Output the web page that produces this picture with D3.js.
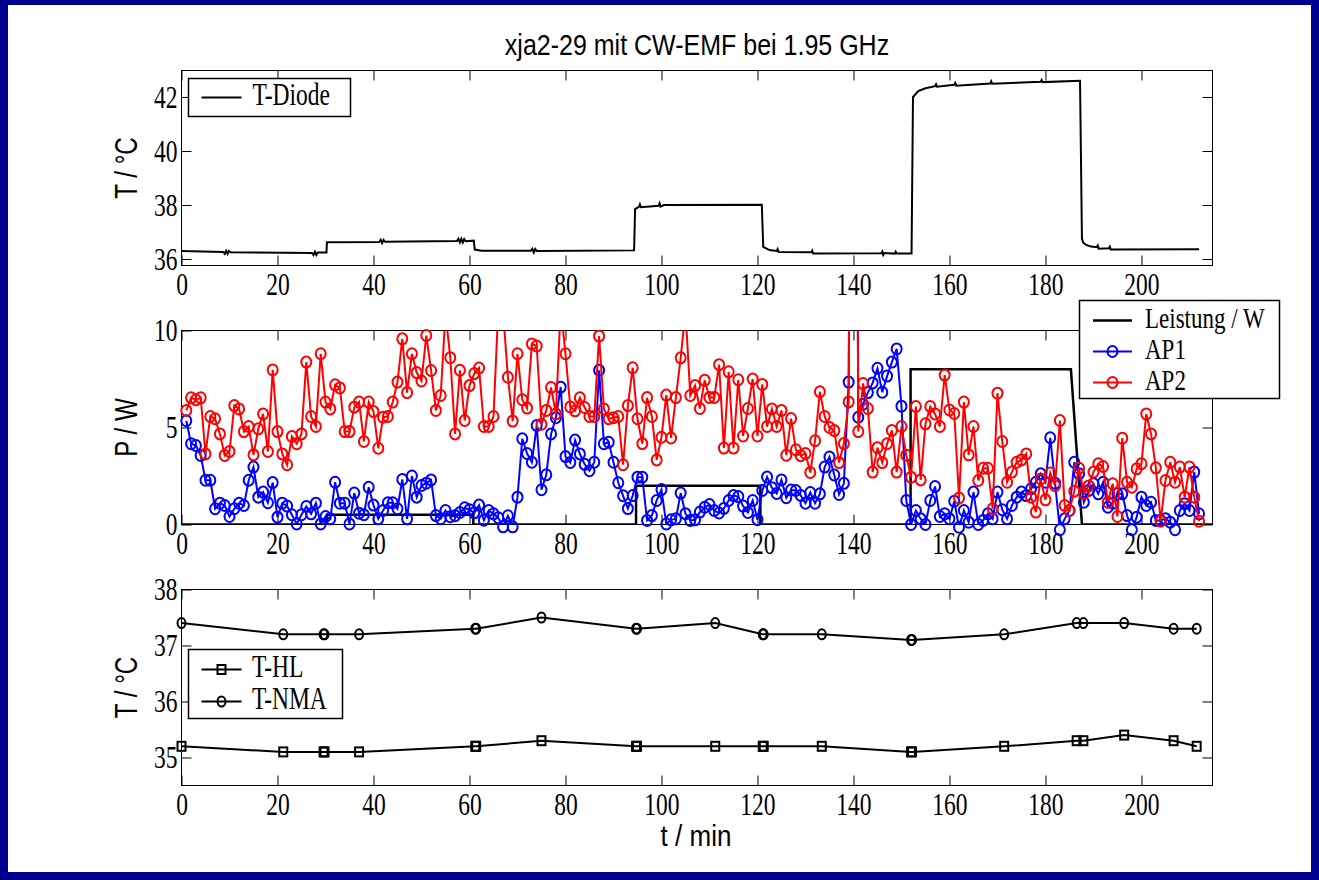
<!DOCTYPE html>
<html>
<head>
<meta charset="utf-8">
<script src="https://cdn.jsdelivr.net/npm/d3@7"></script>
<style>
  body { margin: 0; background: #000090; }
  svg { display: block; }
</style>
</head>
<body>
<script>
// ---- data ----
var tDiodeTime = [0, 8.7, 9.0, 9.3, 9.6, 9.9, 10.2, 27.2, 27.5, 27.8, 28.1, 28.4, 30.2, 30.3,
    41.2, 41.5, 41.8, 42.1, 42.4, 57.4, 57.7, 58.0, 58.3, 58.6, 58.9, 59.2, 60.9, 61.1, 62.5,
    72.8, 73.1, 73.4, 73.7, 74.0, 94.3, 94.5, 95.3, 95.5, 95.7, 99.4, 99.6, 99.8, 100.5, 120.9, 121.2, 122.5,
    124.0, 124.2, 124.4, 131.2, 131.4, 131.6, 145.8, 146.0, 146.2, 146.4, 148.6, 148.8, 149.0, 152.1, 152.4,
    153.5, 155, 157.0, 157.2, 157.4, 161, 161.2, 161.4, 168.5, 168.7, 168.9, 179, 179.2, 179.4, 187.2,
    187.6, 187.9, 188.5, 189.5, 190.7, 190.9, 191.1, 193.2, 193.4, 193.6, 212];
var tDiodeTemp = [36.3, 36.26, 36.19, 36.3, 36.19, 36.3, 36.25, 36.22, 36.15, 36.27, 36.15, 36.24, 36.24, 36.62,
    36.63, 36.71, 36.59, 36.71, 36.64, 36.67, 36.75, 36.61, 36.75, 36.61, 36.74, 36.66, 36.68, 36.35, 36.31,
    36.31, 36.38, 36.24, 36.37, 36.3, 36.32, 37.85, 37.93, 38.02, 37.92, 37.97, 38.06, 37.94, 38.0, 38.01, 36.45, 36.33,
    36.3, 36.37, 36.26, 36.25, 36.31, 36.2, 36.21, 36.28, 36.15, 36.22, 36.2, 36.27, 36.2, 36.2, 42.0,
    42.22, 42.32, 42.4, 42.47, 42.38, 42.45, 42.52, 42.42, 42.5, 42.58, 42.49, 42.56, 42.63, 42.55, 42.6,
    36.75, 36.6, 36.52, 36.46, 36.44, 36.5, 36.38, 36.4, 36.46, 36.35, 36.36];

var apStart = 1; // first sample of AP1 / AP2 at t = 1 min, one sample per minute
var ap1 = [5.35, 4.16, 4.07, 3.56, 2.28, 2.28, 0.81, 1.10, 0.98, 0.41,
    0.81, 1.10, 0.98, 2.28, 2.96, 1.41, 1.67, 1.12, 2.16, 0.38,
    1.10, 0.95, 0.5, 0.03, 0.5, 0.93, 0.55, 1.10, 0.03, 0.41,
    0.29, 2.18, 1.10, 1.10, 0.03, 1.62, 0.58, 0.5, 1.92, 1.0,
    0.29, 0.72, 1.12, 1.12, 0.81, 2.32, 0.29, 2.5, 1.41, 2.01,
    2.13, 2.3, 0.46, 0.3, 0.72, 0.4, 0.45, 0.62, 0.86, 0.76,
    0.6, 1.0, 0.22, 0.72, 0.55, 0.35, -0.12, 0.45, -0.12, 1.41,
    4.42, 3.66, 3.21, 5.10, 1.79, 2.56, 4.67, 5.5, 7.08, 3.5,
    3.2, 4.35, 3.64, 3.1, 2.77, 3.21, 7.95, 4.16, 4.24, 3.21,
    2.15, 1.48, 0.82, 1.49, 2.44, 2.44, 0.21, 0.46, 1.24, 1.8,
    0.03, 0.24, 0.29, 1.62, 0.56, 0.21, 0.24, 0.64, 0.89, 1.03,
    0.72, 0.59, 0.83, 1.24, 1.49, 1.44, 0.95, 0.62, 1.24, 0.25,
    1.75, 2.45, 1.9, 1.6, 2.3, 1.38, 1.78, 1.75, 1.5, 1.1,
    1.65, 1.1, 1.58, 2.96, 3.48, 2.55, 1.55, 2.12, 7.34, 60,
    5.53, 6.2, 6.8, 7.3, 8.05, 6.82, 7.65, 8.37, 9.05, 6.1,
    1.24, 0.0, 0.72, 0.29, 0.0, 1.24, 1.96, 0.41, 0.55, 0.29,
    1.20, -0.14, 0.72, 0.12, 1.67, 0.0, 0.21, 0.55, 0.29, 1.67,
    0.76, 0.29, 0.98, 1.41, 1.67, 1.49, 1.84, 2.18, 2.61, 2.18,
    4.47, 2.13, -0.27, 0.29, 0.72, 3.21, 2.61, 1.15, 1.75, 2.10,
    1.58, 2.18, 0.89, 1.10, 1.58, 1.58, 0.46, -0.27, 0.38, 1.41,
    0.98, 1.15, 0.21, 0.21, 0.3, 0.12, -0.27, 0.72, 1.07, 0.72,
    2.70, 0.55];
var ap2 = [5.88, 6.53, 6.43, 6.53, 3.64, 5.57, 5.45, 4.67, 3.56, 3.76,
    6.13, 5.96, 4.79, 5.05, 3.59, 4.93, 5.70, 3.76, 7.97, 4.79,
    3.64, 3.08, 4.54, 4.16, 4.67, 8.37, 5.57, 5.05, 8.80, 6.31,
    5.96, 7.2, 7.04, 4.79, 4.79, 6.05, 6.31, 4.28, 6.31, 5.82,
    3.93, 5.53, 5.57, 6.31, 7.34, 9.57, 6.8, 8.8, 7.83, 7.4,
    9.74, 7.94, 5.88, 6.65, 10.9, 8.6, 4.67, 7.95, 5.36, 7.16,
    7.78, 8.07, 5.05, 5.05, 5.57, 11.1, 11.0, 7.59, 5.33, 8.80,
    6.43, 6.0, 9.31, 9.2, 5.17, 5.88, 7.06, 5.70, 11.2, 8.80,
    6.06, 5.86, 6.53, 6.03, 5.57, 5.57, 9.71, 5.96, 5.45, 5.5,
    5.57, 3.08, 6.13, 8.08, 5.45, 4.17, 6.54, 5.57, 3.33, 4.5,
    6.67, 4.46, 6.54, 8.59, 11.0, 6.65, 7.16, 5.98, 7.44, 6.55,
    6.55, 8.24, 3.94, 7.87, 3.94, 7.46, 4.56, 5.98, 7.5, 4.56,
    7.22, 5.05, 5.96, 5.05, 5.88, 3.57, 5.46, 3.85, 3.55, 3.66,
    2.68, 4.32, 6.84, 5.57, 5.0, 4.84, 3.19, 4.17, 6.32, 60,
    4.79, 7.27, 5.98, 2.70, 3.96, 3.19, 4.16, 4.85, 2.70, 5.05,
    3.57, 2.44, 6.08, 2.30, 5.19, 6.08, 5.70, 5.05, 7.7, 5.9,
    5.72, 1.37, 6.31, 3.59, 5.05, 2.27, 2.90, 2.90, 0.81, 6.77,
    4.28, 2.18, 2.70, 3.21, 3.33, 3.64, 1.41, 0.64, 2.35, 1.27,
    2.65, 2.0, 5.36, 0.98, 0.72, 1.72, 2.90, 1.6, 1.99, 2.70,
    3.13, 2.99, 1.15, 2.10, 0.41, 4.45, 2.18, 1.92, 2.87, 3.13,
    5.70, 4.67, 2.92, 0.17, 2.27, 3.21, 2.18, 2.96, 1.41, 2.96,
    1.41, 0.17];

var leistungTime = [0, 30.3, 30.3, 60.8, 60.8, 94.7, 94.7, 120.6, 120.6, 151.9, 151.9, 185.3, 187.6, 214.8];
var leistungWatt = [0, 0, 0.5, 0.5, 0, 0, 2, 2, 0, 0, 8, 8, 0, 0];

var probeTime = [0, 21.2, 29.6, 29.8, 37.0, 61.2, 61.4, 75.0, 94.7, 94.9, 111.2, 121.1, 121.3,
    133.4, 152.0, 152.2, 171.4, 186.5, 187.9, 196.4, 206.7, 211.5];
var tHL = [35.2, 35.1, 35.1, 35.1, 35.1, 35.2, 35.2, 35.3, 35.2, 35.2, 35.2, 35.2, 35.2,
    35.2, 35.1, 35.1, 35.2, 35.3, 35.3, 35.4, 35.3, 35.2];
var tNMA = [37.4, 37.2, 37.2, 37.2, 37.2, 37.3, 37.3, 37.5, 37.3, 37.3, 37.4, 37.2, 37.2,
    37.2, 37.1, 37.1, 37.2, 37.4, 37.4, 37.4, 37.3, 37.3];

var xTicks = [0, 20, 40, 60, 80, 100, 120, 140, 160, 180, 200];
var diodeTicks = [36, 38, 40, 42];
var powerTicks = [0, 5, 10];
var probeTicks = [35, 36, 37, 38];

// ---- layout ----
var W = 1319, H = 880;
var stretch = 1.35; // the original figure is stretched vertically, serif text too
var serif = "'Liberation Serif', 'Times New Roman', serif";
var sans = "'Liberation Sans', Arial, sans-serif";

var svg = d3.select('body').append('svg')
    .attr('width', W)
    .attr('height', H);

svg.append('rect')
    .attr('width', W).attr('height', H)
    .attr('fill', '#000090');
svg.append('rect')
    .attr('x', 8).attr('y', 5)
    .attr('width', W - 16).attr('height', H - 13)
    .attr('fill', '#ffffff');

var x = d3.scaleLinear()
    .domain([0, 214.8])
    .range([181.5, 1212.5]);

var panels = [
    {top: 70.5, bottom: 265.5, domain: [35.76, 42.98], ticks: diodeTicks, label: 'T / °C', id: 'p1'},
    {top: 330.5, bottom: 524.5, domain: [0, 10], ticks: powerTicks, label: 'P / W', id: 'p2'},
    {top: 589.5, bottom: 785.5, domain: [34.5, 38], ticks: probeTicks, label: 'T / °C', id: 'p3'}
];

// text helper: sx / sy scale the glyphs, rotate turns the label for the y axes
function addText(parent, str, px, py, opts) {
    var sx = opts.sx || 1, sy = opts.sy || stretch;
    var tr = 'translate(' + px + ',' + py + ')';
    if (opts.rotate) tr += ' rotate(-90) scale(' + sx + ',' + sy + ')';
    else tr += ' scale(' + sx + ',' + sy + ')';
    return parent.append('text')
        .attr('transform', tr)
        .attr('text-anchor', opts.anchor || 'start')
        .attr('font-family', opts.font || serif)
        .attr('font-size', opts.size || 23.5)
        .attr('fill', 'black')
        .text(str);
}

panels.forEach(function(p) {
    var y = d3.scaleLinear().domain(p.domain).range([p.bottom, p.top]);
    p.y = y;
    var g = svg.append('g').classed(p.id, true);

    svg.append('clipPath').attr('id', 'clip-' + p.id)
        .append('rect')
        .attr('x', x.range()[0]).attr('y', p.top)
        .attr('width', x.range()[1] - x.range()[0])
        .attr('height', p.bottom - p.top);

    // ticks point inward on all four sides
    var bottomAxis = g.append('g')
        .attr('transform', 'translate(0,' + p.bottom + ')')
        .call(d3.axisBottom(x).tickValues(xTicks).tickSizeInner(-10).tickSizeOuter(0).tickPadding(5.5));
    g.append('g')
        .attr('transform', 'translate(0,' + p.top + ')')
        .call(d3.axisTop(x).tickValues(xTicks).tickSizeInner(-10).tickSizeOuter(0).tickFormat(''));
    var leftAxis = g.append('g')
        .attr('transform', 'translate(' + x.range()[0] + ',0)')
        .call(d3.axisLeft(y).tickValues(p.ticks).tickFormat(d3.format('~g'))
            .tickSizeInner(-10).tickSizeOuter(0).tickPadding(4));
    g.append('g')
        .attr('transform', 'translate(' + x.range()[1] + ',0)')
        .call(d3.axisRight(y).tickValues(p.ticks).tickSizeInner(-10).tickSizeOuter(0).tickFormat(''));

    g.selectAll('.domain').remove();
    g.selectAll('.tick line').attr('stroke', 'black');
    [bottomAxis, leftAxis].forEach(function(a) {
        a.attr('font-family', serif).attr('font-size', 23.5);
        a.selectAll('text')
            .attr('fill', 'black')
            .attr('transform', 'scale(1,' + stretch + ')');
    });

    g.append('rect')
        .attr('x', x.range()[0]).attr('y', p.top)
        .attr('width', x.range()[1] - x.range()[0])
        .attr('height', p.bottom - p.top)
        .attr('fill', 'none')
        .attr('stroke', 'black')
        .attr('stroke-width', 1);

    addText(svg, p.label, 137, (p.top + p.bottom) / 2, {rotate: true, anchor: 'middle', font: sans, size: 31, sx: 0.78, sy: 1});
});

// title and x label
addText(svg, 'xja2-29 mit CW-EMF bei 1.95 GHz', 697, 55, {anchor: 'middle', font: sans, size: 25, sy: 1.15});
addText(svg, 't / min', 696, 846, {anchor: 'middle', font: sans, size: 26, sy: 1.1});

// ---- panel 1: T-Diode ----
var p1 = panels[0];
var diodeLine = d3.line()
    .x(function(d, i) { return x(tDiodeTime[i]); })
    .y(function(d) { return p1.y(d); });
svg.append('path')
    .datum(tDiodeTemp)
    .attr('d', diodeLine)
    .attr('fill', 'none')
    .attr('stroke', 'black')
    .attr('stroke-width', 2)
    .attr('clip-path', 'url(#clip-p1)');

// ---- panel 2: power + AP1 / AP2 ----
var p2 = panels[1];
var powerLine = d3.line()
    .x(function(d, i) { return x(leistungTime[i]); })
    .y(function(d) { return p2.y(d); });
svg.append('path')
    .datum(leistungWatt)
    .attr('d', powerLine)
    .attr('fill', 'none')
    .attr('stroke', 'black')
    .attr('stroke-width', 2.5)
    .attr('clip-path', 'url(#clip-p2)');

var apLine = d3.line()
    .x(function(d) { return x(d.t); })
    .y(function(d) { return p2.y(d.v); });

[{data: ap1, color: '#0000ff'}, {data: ap2, color: '#ff0000'}].forEach(function(s) {
    var pts = s.data.map(function(v, i) { return {t: apStart + i, v: v}; });
    svg.append('path')
        .datum(pts)
        .attr('d', apLine)
        .attr('fill', 'none')
        .attr('stroke', s.color)
        .attr('stroke-width', 2)
        .attr('clip-path', 'url(#clip-p2)');
    // markers only where the point lies inside the axes
    svg.append('g')
        .selectAll('ellipse')
        .data(pts.filter(function(d) { return d.v <= 10; }))
        .enter()
        .append('ellipse')
        .attr('cx', function(d) { return x(d.t); })
        .attr('cy', function(d) { return p2.y(d.v); })
        .attr('rx', 5)
        .attr('ry', 5.5)
        .attr('fill', 'none')
        .attr('stroke', s.color)
        .attr('stroke-width', 2);
});

// ---- panel 3: T-HL and T-NMA ----
var p3 = panels[2];
var probeLine = d3.line()
    .x(function(d, i) { return x(probeTime[i]); })
    .y(function(d) { return p3.y(d); });
[tHL, tNMA].forEach(function(s) {
    svg.append('path')
        .datum(s)
        .attr('d', probeLine)
        .attr('fill', 'none')
        .attr('stroke', 'black')
        .attr('stroke-width', 2);
});
svg.append('g').selectAll('rect')
    .data(tHL)
    .enter()
    .append('rect')
    .attr('x', function(d, i) { return x(probeTime[i]) - 4; })
    .attr('y', function(d) { return p3.y(d) - 4.5; })
    .attr('width', 8)
    .attr('height', 9)
    .attr('fill', 'none')
    .attr('stroke', 'black')
    .attr('stroke-width', 2);
svg.append('g').selectAll('ellipse')
    .data(tNMA)
    .enter()
    .append('ellipse')
    .attr('cx', function(d, i) { return x(probeTime[i]); })
    .attr('cy', function(d) { return p3.y(d); })
    .attr('rx', 4)
    .attr('ry', 5)
    .attr('fill', 'none')
    .attr('stroke', 'black')
    .attr('stroke-width', 2);

// ---- legends ----
function legendBox(x0, y0, w, h) {
    svg.append('rect')
        .attr('x', x0).attr('y', y0)
        .attr('width', w).attr('height', h)
        .attr('fill', 'white')
        .attr('stroke', 'black')
        .attr('stroke-width', 1.5);
}
function legendLine(x0, x1, yy, color, width) {
    svg.append('line')
        .attr('x1', x0).attr('x2', x1)
        .attr('y1', yy).attr('y2', yy)
        .attr('stroke', color)
        .attr('stroke-width', width);
}

legendBox(188.5, 78.5, 162, 38);
legendLine(201.5, 241.5, 97.5, 'black', 2);
addText(svg, 'T-Diode', 252.5, 104.5, {});

legendBox(1079.5, 300.5, 200, 98);
legendLine(1093, 1132, 320.5, 'black', 2.5);
addText(svg, 'Leistung / W', 1145, 327.5, {size: 23, sy: 1.3});
legendLine(1093, 1132, 351.5, '#0000ff', 2);
svg.append('ellipse').attr('cx', 1112.5).attr('cy', 351.5).attr('rx', 5).attr('ry', 5.5)
    .attr('fill', 'none').attr('stroke', '#0000ff').attr('stroke-width', 2);
addText(svg, 'AP1', 1145, 358.5, {size: 23, sy: 1.3});
legendLine(1093, 1132, 382.5, '#ff0000', 2);
svg.append('ellipse').attr('cx', 1112.5).attr('cy', 382.5).attr('rx', 5).attr('ry', 5.5)
    .attr('fill', 'none').attr('stroke', '#ff0000').attr('stroke-width', 2);
addText(svg, 'AP2', 1145, 389.5, {size: 23, sy: 1.3});

legendBox(188.5, 649.5, 154, 69);
legendLine(201.5, 241.5, 669.5, 'black', 2);
svg.append('rect').attr('x', 217.5).attr('y', 665).attr('width', 8).attr('height', 9)
    .attr('fill', 'none').attr('stroke', 'black').attr('stroke-width', 2);
addText(svg, 'T-HL', 252, 676.5, {});
legendLine(201.5, 241.5, 701.5, 'black', 2);
svg.append('ellipse').attr('cx', 221.5).attr('cy', 701.5).attr('rx', 4).attr('ry', 5)
    .attr('fill', 'none').attr('stroke', 'black').attr('stroke-width', 2);
addText(svg, 'T-NMA', 252, 708.5, {});
</script>
</body>
</html>
